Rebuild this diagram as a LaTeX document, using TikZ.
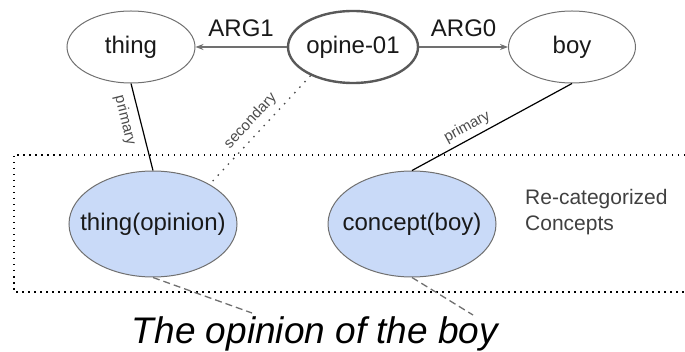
\documentclass[tikz,border=0pt]{standalone}
\usepackage{fontspec}
\setmainfont{Liberation Sans}
\usetikzlibrary{arrows.meta,shapes.geometric}

\definecolor{conceptblue}{HTML}{C9DAF8}
\definecolor{edgegray}{HTML}{707070}

\begin{document}
\begin{tikzpicture}[x=1pt,y=-1pt,
    amr/.style={ellipse,draw=edgegray,line width=1pt,inner xsep=-30pt,inner ysep=0pt,
        minimum width=128pt,minimum height=72pt,text=black!90,font=\fontsize{24}{26}\selectfont},
    recat/.style={amr,fill=conceptblue,minimum width=168pt,minimum height=106pt},
    rel/.style={draw=edgegray,line width=1.2pt,-{Stealth[length=8pt,width=6pt]}},
    rellabel/.style={font=\fontsize{24}{26}\selectfont,text=black!90},
    small/.style={font=\fontsize{15}{17}\selectfont,text=black!70,sloped}]
\useasboundingbox (0,0) rectangle (685,352);

% AMR graph
\node [amr] (thing) at (131,47) {thing};
\node [amr,line width=2.4pt,draw=black!65,minimum width=130pt] (opine) at (353,47) {opine-01};
\node [amr,minimum width=127pt] (boy) at (572,47) {boy};

\draw [rel] (opine) -- (thing) node [rellabel,midway,above=6pt] {ARG1};
\draw [rel] (opine) -- (boy) node [rellabel,midway,above=6pt] {ARG0};

% re-categorized concepts
\draw [line width=1.3pt,dash pattern=on 1.5pt off 4.5pt] (685,155) -- (14,155) -- (14,292) -- (685,292);
\node [recat] (topin) at (153,224) {thing(opinion)};
\node [recat] (concept) at (412,224) {concept(boy)};
\node [align=left,anchor=west,inner sep=0pt,text=black!75,font=\fontsize{21}{26}\selectfont] (note) at (525,212) {Re-categorized\\Concepts};

\draw [line width=1.2pt] (thing.south) -- (topin.north) node [small,pos=0.38,below=4pt] {primary};
\draw [line width=1.3pt,black!70,dash pattern=on 1.5pt off 6pt] (opine.214) -- (topin.35) node [small,midway,above=2pt] {secondary};
\draw [line width=1.2pt] (boy.south) -- (concept.north) node [small,pos=0.62,above=1pt] {primary};

% sentence
\node [anchor=base,font=\fontsize{37}{40}\selectfont\itshape] (sent) at (315,344) {The opinion of the boy};
\coordinate (w1) at (252,313);
\coordinate (w2) at (473,315);
\draw [line width=1.3pt,edgegray,dash pattern=on 7pt off 4pt] (topin.south) -- (w1);
\draw [line width=1.3pt,edgegray,dash pattern=on 7pt off 4pt] (concept.south) -- (w2);
\end{tikzpicture}
\end{document}
